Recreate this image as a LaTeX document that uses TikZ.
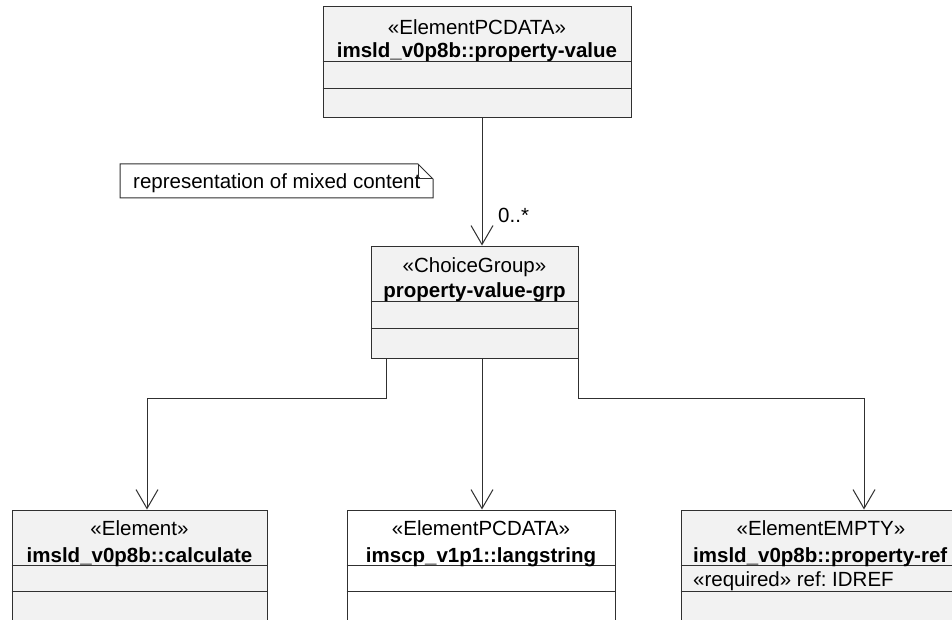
\documentclass[tikz,border=0pt]{standalone}
\usepackage{fontspec}
\setmainfont{Liberation Sans}
\usetikzlibrary{arrows.meta}
\definecolor{boxfill}{HTML}{F2F2F2}
\definecolor{edgecol}{HTML}{303030}
\frenchspacing
\begin{document}
\begin{tikzpicture}[x=1pt,y=-1pt,
  umlbox/.style={draw=edgecol, line width=1pt, fill=boxfill, inner sep=0pt},
  cline/.style={draw=edgecol, line width=1pt},
  txt/.style={inner sep=0pt, anchor=base, font=\fontsize{20.5}{24}\selectfont},
  nametxt/.style={txt, font=\fontsize{20.5}{24}\selectfont\bfseries},
  conn/.style={draw=edgecol, line width=1pt},
  arr/.style={conn, -{Straight Barb[length=19pt,width=22pt,line width=1pt]}}
]
\clip (0,0) rectangle (952,620);
\fill[white] (0,0) rectangle (952,620);

% top box
\node[umlbox, minimum width=308pt, minimum height=111pt] (pv) at (477,62.5) {};
\draw[cline] ([yshift=-55pt]pv.north west) -- ([yshift=-55pt]pv.north east);
\draw[cline] ([yshift=-82pt]pv.north west) -- ([yshift=-82pt]pv.north east);
\node[txt] (pvs) at (477,35) {«ElementPCDATA»};
\node[nametxt] (pvn) at (477,58) {imsld\_v0p8b::property-value};

% note
\node[txt, anchor=base west] (nt) at (133,189) {representation of mixed content};
\coordinate (n1) at (120,164);
\coordinate (n2) at (418,164);
\coordinate (n3) at (433,179);
\coordinate (n4) at (433,198);
\coordinate (n5) at (120,198);
\coordinate (n6) at (418,179);
\draw[conn] (n1) -- (n2) -- (n3) -- (n4) -- (n5) -- cycle;
\draw[conn] (n2) -- (n6) -- (n3);

% choice group
\node[umlbox, minimum width=207pt, minimum height=112pt] (grp) at (474.5,302) {};
\draw[cline] ([yshift=-56pt]grp.north west) -- ([yshift=-56pt]grp.north east);
\draw[cline] ([yshift=-83pt]grp.north west) -- ([yshift=-83pt]grp.north east);
\node[txt] (grps) at (474.5,272) {«ChoiceGroup»};
\node[nametxt] (grpn) at (474.5,297) {property-value-grp};

% bottom boxes
\node[umlbox, minimum width=255pt, minimum height=120pt] (calc) at (139.5,570) {};
\draw[cline] ([yshift=-56pt]calc.north west) -- ([yshift=-56pt]calc.north east);
\draw[cline] ([yshift=-82pt]calc.north west) -- ([yshift=-82pt]calc.north east);
\node[txt] (calcs) at (139.5,535) {«Element»};
\node[nametxt] (calcn) at (139.5,562) {imsld\_v0p8b::calculate};

\node[umlbox, fill=white, minimum width=268pt, minimum height=120pt] (lang) at (481,570) {};
\draw[cline] ([yshift=-56pt]lang.north west) -- ([yshift=-56pt]lang.north east);
\draw[cline] ([yshift=-82pt]lang.north west) -- ([yshift=-82pt]lang.north east);
\node[txt] (langs) at (481,535) {«ElementPCDATA»};
\node[nametxt] (langn) at (481,562) {imscp\_v1p1::langstring};

\node[umlbox, minimum width=280pt, minimum height=120pt] (ref) at (821,570) {};
\draw[cline] ([yshift=-56pt]ref.north west) -- ([yshift=-56pt]ref.north east);
\draw[cline] ([yshift=-82pt]ref.north west) -- ([yshift=-82pt]ref.north east);
\node[txt] (refs) at (821,535) {«ElementEMPTY»};
\node[nametxt, anchor=base west] (refn) at (693,562) {imsld\_v0p8b::property-ref};
\node[txt, anchor=base west] (refa) at (693,586) {«required» ref: IDREF};

% connectors
\coordinate (cx0) at (482,0);
\draw[arr] (pv.south -| cx0) -- (grp.north -| cx0);
\node[txt, anchor=base west] (mult) at (498,223) {0..*};

\coordinate (cl) at (386,398);
\coordinate (clb) at (147,398);
\draw[arr] (grp.south -| cl) -- (cl) -- (clb) -- (calc.north -| clb);

\draw[arr] (grp.south -| cx0) -- (lang.north -| cx0);

\coordinate (cr) at (578,398);
\coordinate (crb) at (864,398);
\draw[arr] (grp.south -| cr) -- (cr) -- (crb) -- (ref.north -| crb);
\end{tikzpicture}
\end{document}
